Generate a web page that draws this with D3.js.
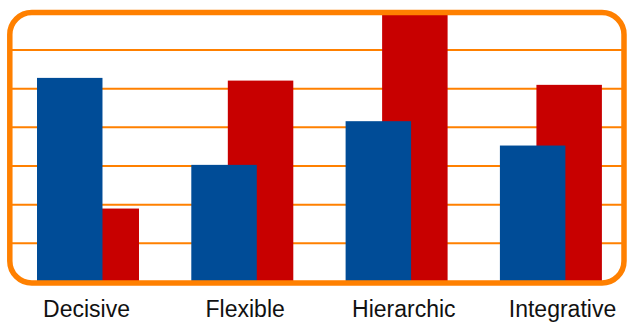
<!DOCTYPE html>
<html>
<head>
<meta charset="utf-8">
<script src="https://cdn.jsdelivr.net/npm/d3@7"></script>
<style>
  html, body { margin: 0; padding: 0; background: #fff; }
  svg { display: block; }
</style>
</head>
<body>
<svg id="chart" width="627" height="323"></svg>
<script>
// Decision styles, two series per category
const categories = ["Decisive", "Flexible", "Hierarchic", "Integrative"];
const blueValues = [5.28, 3.03, 4.16, 3.53];
const redValues  = [1.90, 5.21, 7.00, 5.10];
const gridValues = [1, 2, 3, 4, 5, 6];

const svg = d3.select("#chart");
const orange = "#FF8000";
const blue = "#004C97";
const red = "#C80000";

// Value scale: the frame top is the maximum of 7
const y = d3.scaleLinear().domain([0, 7]).range([282, 11.4]);

// Category bands hold one blue bar and one overlapping red bar
const x = d3.scaleBand().domain(categories).range([37, 601.9])
  .paddingInner(0.339).paddingOuter(0);
const barW = x.bandwidth() * 0.642;
const redOffset = x.bandwidth() - barW;

// Label positions along the bottom
const xLabel = d3.scalePoint().domain(categories).range([86, 562]);

// Horizontal gridlines
svg.append("g").selectAll("line").data(gridValues).join("line")
  .attr("x1", 10).attr("x2", 624)
  .attr("y1", d => y(d)).attr("y2", d => y(d))
  .attr("stroke", orange).attr("stroke-width", 2);

// Red bars sit behind the blue ones
svg.append("g").selectAll("rect").data(categories).join("rect")
  .attr("x", d => x(d) + redOffset)
  .attr("y", (d, i) => y(redValues[i]))
  .attr("width", barW)
  .attr("height", (d, i) => y(0) - y(redValues[i]))
  .attr("fill", red);

svg.append("g").selectAll("rect").data(categories).join("rect")
  .attr("x", d => x(d))
  .attr("y", (d, i) => y(blueValues[i]))
  .attr("width", barW)
  .attr("height", (d, i) => y(0) - y(blueValues[i]))
  .attr("fill", blue);

// Rounded frame drawn over everything
svg.append("rect")
  .attr("x", 9.8).attr("y", 12.5)
  .attr("width", 614.2).attr("height", 270.5)
  .attr("rx", 22).attr("ry", 22)
  .attr("fill", "none")
  .attr("stroke", orange).attr("stroke-width", 5.5);

// Category labels
const axis = svg.append("g")
  .attr("transform", "translate(0,300)")
  .call(d3.axisBottom(xLabel).tickSize(0).tickPadding(0));
axis.select(".domain").remove();
axis.selectAll("text")
  .attr("dy", null)
  .attr("y", 16.7)
  .attr("fill", "#111")
  .style("font-family", "'Liberation Sans', Arial, sans-serif")
  .style("font-size", "23px");
</script>
</body>
</html>
